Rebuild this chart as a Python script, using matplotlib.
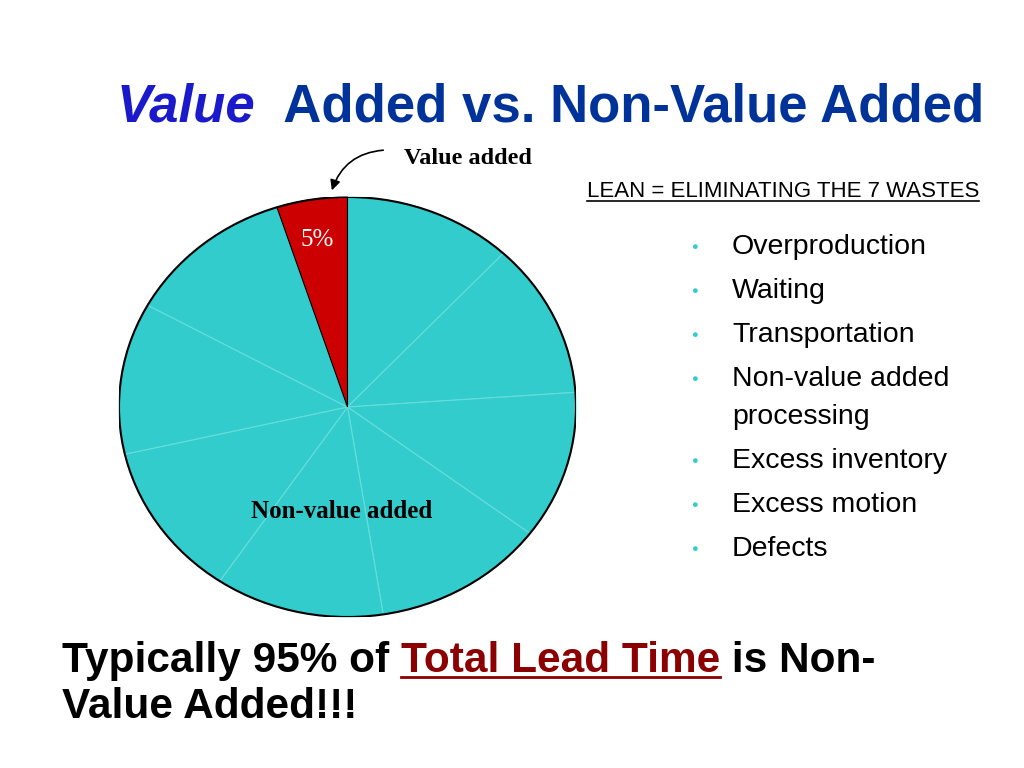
import matplotlib
matplotlib.use("Agg")
import matplotlib.pyplot as plt
from matplotlib.lines import Line2D

plt.rcParams['font.family'] = ['Liberation Sans', 'DejaVu Sans']

# wedge sizes in degrees, clockwise from 12 o'clock; last one is the value-added slice
slice_sizes = [43, 43, 41, 44, 43, 43, 42, 43, 18]
slice_colors = ['#33cccc'] * 8 + ['#cc0000']
wastes = ["Overproduction", "Waiting", "Transportation", "Non-value added\nprocessing",
          "Excess inventory", "Excess motion", "Defects"]

W, H = 1024, 768
fig = plt.figure(figsize=(W / 100, H / 100), dpi=100)
fig.patch.set_facecolor('white')

def fx(px):
    return px / W

def fy(py):
    return 1 - py / H

# pie, slightly elliptical like the original
ax = fig.add_axes([fx(119), fy(617), 457 / W, 420 / H])
wedges, _ = ax.pie(slice_sizes, colors=slice_colors, startangle=90, counterclock=False,
                   wedgeprops=dict(edgecolor='#66dddd', linewidth=0.8))
wedges[-1].set_edgecolor('black')
ax.set_aspect('auto')
ax.set_xlim(-1.0, 1.0)
ax.set_ylim(-1.0, 1.0)
outline = plt.Circle((0, 0), 1.0, fill=False, edgecolor='black', linewidth=1.5)
ax.add_patch(outline)
ax.axis('off')

fig.canvas.draw()
renderer = fig.canvas.get_renderer()

def run_text(x, y, parts, size, underline_idx=(), ulw=2, uoff=0.006):
    """Draw consecutive text pieces on one baseline, x/y in pixels."""
    cur = x
    for i, (s, kw) in enumerate(parts):
        t = fig.text(fx(cur), fy(y), s, fontsize=size, va='baseline', ha='left', **kw)
        bb = t.get_window_extent(renderer)
        if i in underline_idx:
            uy = fy(y) - uoff
            fig.add_artist(Line2D([bb.x0 / W, bb.x1 / W], [uy, uy],
                                  color=kw.get('color', 'black'), linewidth=ulw))
        cur += bb.width

# title
run_text(117, 122, [("Value", dict(color='#1a1acc', style='italic', weight='bold')),
                    ("  Added vs. Non-Value Added", dict(color='#003399', weight='bold'))], 38)

# labels around pie
fig.text(fx(404), fy(164), "Value added", family='Liberation Serif', weight='bold',
         fontsize=17.5, va='baseline')
fig.text(fx(317), fy(246), "5%", family='Liberation Serif', color='white',
         fontsize=18, ha='center', va='baseline')
fig.text(fx(342), fy(518), "Non-value added", family='Liberation Serif', weight='bold',
         fontsize=18, ha='center', va='baseline')
fig.add_artist(matplotlib.patches.FancyArrowPatch(
    (fx(386), fy(150)), (fx(331), fy(193)), transform=fig.transFigure,
    connectionstyle="arc3,rad=0.35", arrowstyle='-|>', mutation_scale=15,
    color='black', linewidth=1.2))

# lean heading
run_text(587, 197, [("LEAN = ELIMINATING THE 7 WASTES", dict(color='black'))], 16,
         underline_idx=(0,), ulw=1.2, uoff=0.005)

# bullet list
y = 254
for w in wastes:
    lines = w.split("\n")
    fig.text(fx(694), fy(y - 7), "\u25cf", color='#33cccc', fontsize=8,
             va='center', ha='center')
    for j, ln in enumerate(lines):
        fig.text(fx(732), fy(y), ln, fontsize=20.5, va='baseline')
        if j < len(lines) - 1:
            y += 38
    y += 44

# bottom statement
run_text(62, 672, [("Typically 95% of ", dict(color='black', weight='bold')),
                   ("Total Lead Time", dict(color='#8b0000', weight='bold')),
                   (" is Non-", dict(color='black', weight='bold'))], 30.5, underline_idx=(1,))
run_text(62, 718, [("Value Added!!!", dict(color='black', weight='bold'))], 30.5)

fig.savefig("out.png", dpi=100)
